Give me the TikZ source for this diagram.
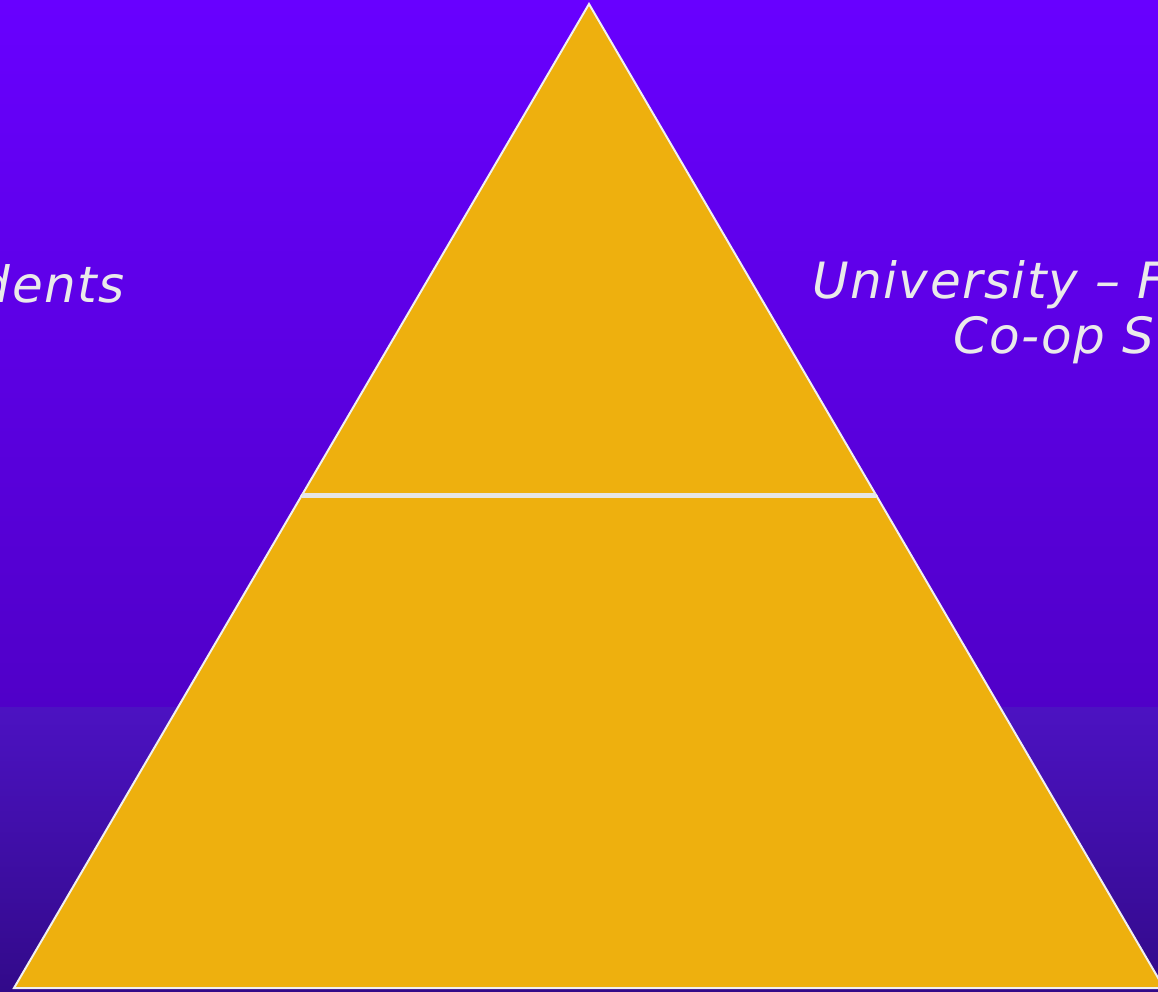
\documentclass[tikz,border=0pt]{standalone}
\usepackage{fontspec}
\setmainfont{DejaVu Sans}
\newfontfamily\lblfont[LetterSpace=3]{DejaVu Sans}
\definecolor{bgtop}{HTML}{6800FF}
\definecolor{bgmid}{HTML}{5000C8}
\definecolor{bgband}{HTML}{4C12C2}
\definecolor{bgbot}{HTML}{320A8A}
\definecolor{pyr}{HTML}{EEB00E}
\definecolor{edge}{HTML}{F0F0F0}
\definecolor{divider}{HTML}{E6E6E6}
\definecolor{txt}{HTML}{EAEAEA}
\tikzset{
  lbl/.style={inner sep=0pt, text=txt, font=\lblfont\fontsize{50}{60}\selectfont\itshape},
  pyrpart/.style={fill=pyr, draw=edge, line width=2pt, line join=miter}
}
\begin{document}
\begin{tikzpicture}[x=1pt,y=-1pt]
\useasboundingbox (0,0) rectangle (1158,991);
\clip (0,0) rectangle (1158,991);
\shade[top color=bgtop, bottom color=bgmid] (0,0) rectangle (1158,707);
\shade[top color=bgband, bottom color=bgbot] (0,707) rectangle (1158,991);
% pyramid
\coordinate (apex) at (589,4);
\coordinate (ml) at (302,495);
\coordinate (mr) at (876,495);
\coordinate (bl) at (14,988);
\coordinate (br) at (1164,988);
\path[pyrpart] (apex) -- (mr) -- (ml) -- cycle;
\path[pyrpart] (ml) -- (mr) -- (br) -- (bl) -- cycle;
\draw[divider, line width=5pt] (ml) -- (mr);
% labels
\node[lbl, anchor=base east] (stud) at (125,302) {Students};
\node[lbl, anchor=base west] (uni) at (812,298) {University – Faculty};
\node[lbl, anchor=base west] (coop) at (953,353) {Co-op Students};
\end{tikzpicture}
\end{document}
